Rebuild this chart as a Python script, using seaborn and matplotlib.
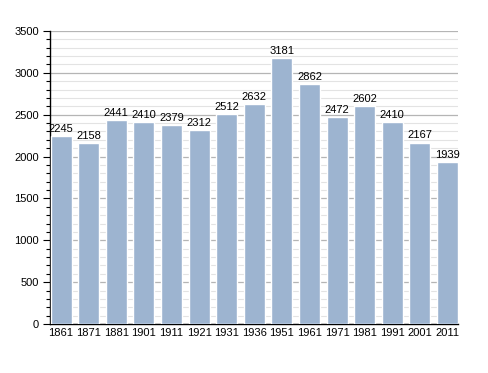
import numpy as np
import pandas as pd
import matplotlib
matplotlib.use("Agg")
import matplotlib.pyplot as plt
import seaborn as sns
from matplotlib.ticker import MultipleLocator

# Population data.
years = ["1861", "1871", "1881", "1901", "1911", "1921", "1931", "1936",
         "1951", "1961", "1971", "1981", "1991", "2001", "2011"]
population = [2245, 2158, 2441, 2410, 2379, 2312, 2512, 2632,
              3181, 2862, 2472, 2602, 2410, 2167, 1939]

df = pd.DataFrame({"year": years, "population": population})

sns.set_style("white")
plt.rcParams["font.family"] = ["Liberation Sans", "DejaVu Sans"]
plt.rcParams["text.color"] = "black"
plt.rcParams["xtick.color"] = "black"
plt.rcParams["ytick.color"] = "black"

fig = plt.figure(figsize=(4.88, 3.73), dpi=100)
ax = fig.add_axes([0.1025, 0.1314, 0.836, 0.7855])

sns.barplot(data=df, x="year", y="population", color="#9db4d0",
            saturation=1, width=0.76, ax=ax, zorder=3)

# Grid: light lines every 100, darker every 500.
ax.set_ylim(0, 3500)
ax.yaxis.set_major_locator(MultipleLocator(500))
ax.yaxis.set_minor_locator(MultipleLocator(100))
ax.grid(axis="y", which="minor", color="#e3e3e3", linewidth=0.8, zorder=0)
ax.grid(axis="y", which="major", color="#b5b5b5", linewidth=0.9, zorder=0)
ax.set_axisbelow(True)

ax.set_xlim(-0.4, len(years) - 0.62)
for i, v in enumerate(population):
    ax.text(i, v + 25, str(v), ha="center", va="bottom", fontsize=8, color="black")

ax.tick_params(axis="y", which="major", length=5, width=0.8, direction="out",
               labelsize=8, left=True, pad=3, colors="black")
ax.tick_params(axis="y", which="minor", length=3, width=0.8, direction="out", left=True)
ax.tick_params(axis="x", length=0, labelsize=8, pad=3, colors="black")

ax.set_xlabel("")
ax.set_ylabel("")
for s in ["top", "right"]:
    ax.spines[s].set_visible(False)
ax.spines["left"].set_color("black")
ax.spines["bottom"].set_color("black")
ax.spines["left"].set_linewidth(1)
ax.spines["bottom"].set_linewidth(1)

fig.savefig("out.png", dpi=100, facecolor="white")
